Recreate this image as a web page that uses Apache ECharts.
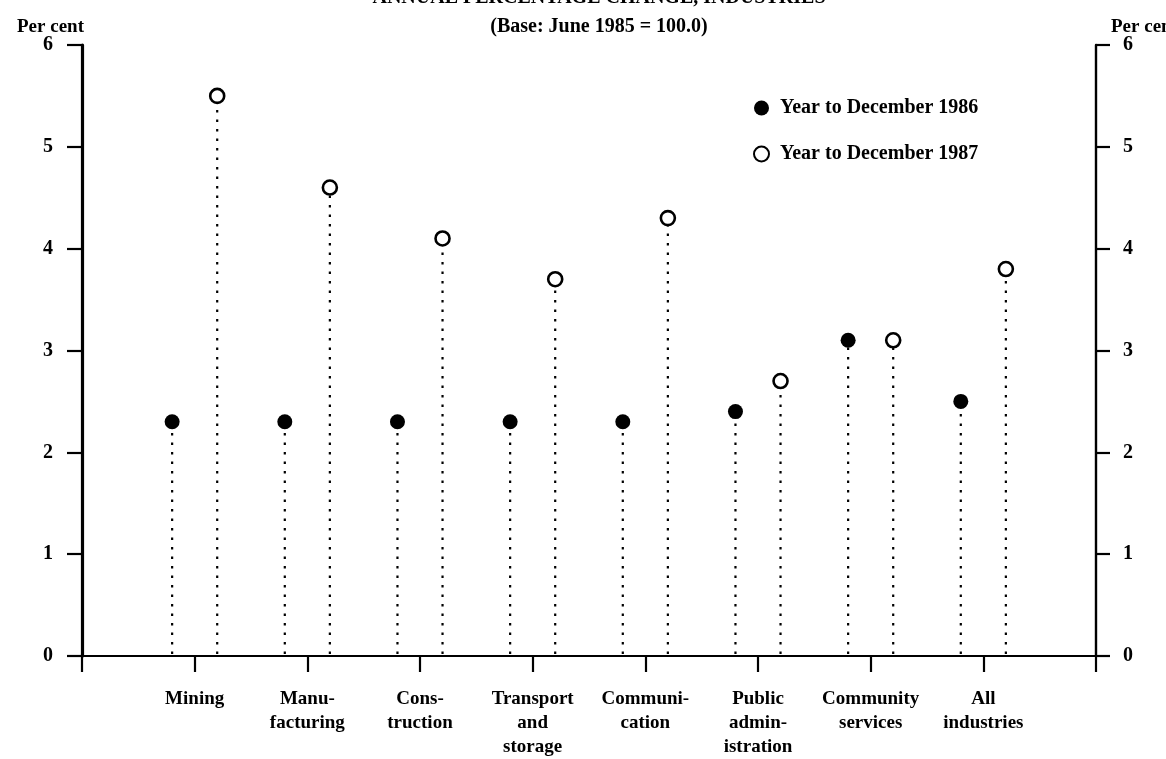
<!DOCTYPE html>
<html>
<head>
<meta charset="utf-8">
<script src="https://cdn.jsdelivr.net/npm/echarts@6/dist/echarts.min.js"></script>
<style>
html,body{margin:0;padding:0;background:#fff;}
#c{width:1166px;height:759px;}
</style>
</head>
<body>
<div id="c"></div>
<script>
var categories = ['Mining', 'Manu-\nfacturing', 'Cons-\ntruction', 'Transport\nand\nstorage', 'Communi-\ncation', 'Public\nadmin-\nistration', 'Community\nservices', 'All\nindustries'];
var year1986 = [2.3, 2.3, 2.3, 2.3, 2.3, 2.4, 3.1, 2.5];
var year1987 = [5.5, 4.6, 4.1, 3.7, 4.3, 2.7, 3.1, 3.8];
var yTicks = [0, 1, 2, 3, 4, 5, 6];
var seriesNames = ['Year to December 1986', 'Year to December 1987'];
var titleLines = ['ANNUAL PERCENTAGE CHANGE, INDUSTRIES', '(Base: June 1985 = 100.0)'];
var axisUnit = 'Per cent';

var FONT = "'Liberation Serif', 'DejaVu Serif', serif";
var OFF = 0.2;

var pts86 = year1986.map(function (v, i) { return [i + 1 - OFF, v]; });
var pts87 = year1987.map(function (v, i) { return [i + 1 + OFF, v]; });

function stem(params, api) {
  var x = api.value(0), y = api.value(1);
  var top = api.coord([x, y]);
  var bot = api.coord([x, 0]);
  return {
    type: 'line',
    shape: { x1: bot[0], y1: bot[1] - 2, x2: top[0], y2: top[1] + 6 },
    style: { stroke: '#000', lineWidth: 2.2, lineDash: [2.5, 7] }
  };
}

var chart = echarts.init(document.getElementById('c'), null, { renderer: 'canvas' });
var labelBase = { color: '#000', fontFamily: FONT, fontWeight: 'bold', fontSize: 20,
  formatter: function (v) { return yTicks.indexOf(v) >= 0 ? String(v) : ''; } };
chart.setOption({
  animation: false,
  backgroundColor: '#fff',
  grid: { left: 82, right: 70, top: 45, bottom: 96 },
  title: [
    { text: titleLines[0], left: 594, top: -17, textAlign: 'center',
      textStyle: { fontFamily: FONT, fontWeight: 'bold', fontSize: 20, color: '#000' } },
    { text: titleLines[1], left: 594, top: 12, textAlign: 'center',
      textStyle: { fontFamily: FONT, fontWeight: 'bold', fontSize: 20, color: '#000' } },
    { text: axisUnit, left: 12, top: 13,
      textStyle: { fontFamily: FONT, fontWeight: 'bold', fontSize: 19, color: '#000' } },
    { text: axisUnit, left: 1106, top: 13,
      textStyle: { fontFamily: FONT, fontWeight: 'bold', fontSize: 19, color: '#000' } }
  ],
  legend: {
    orient: 'vertical', left: 748, top: 93, itemGap: 26,
    itemWidth: 15, itemHeight: 15,
    data: seriesNames,
    textStyle: { fontFamily: FONT, fontWeight: 'bold', fontSize: 20, color: '#000', padding: [0, 0, 0, 6] }
  },
  xAxis: {
    type: 'value', min: 0, max: categories.length + 1, interval: 1,
    axisLine: { show: true, onZero: false, lineStyle: { color: '#000', width: 2.2 } },
    axisTick: { show: true, length: 16, lineStyle: { color: '#000', width: 2.2 } },
    splitLine: { show: false },
    axisLabel: {
      color: '#000', fontFamily: FONT, fontWeight: 'bold', fontSize: 19, lineHeight: 24, margin: 31,
      formatter: function (v) { return (v >= 1 && v <= categories.length) ? categories[v - 1] : ''; }
    }
  },
  yAxis: [
    { type: 'value', min: 0, max: 6, interval: 1, position: 'left',
      axisLine: { show: true, lineStyle: { color: '#000', width: 3.2 } },
      axisTick: { show: true, length: 15, lineStyle: { color: '#000', width: 2.2 } },
      splitLine: { show: false },
      axisLabel: Object.assign({ margin: 29 }, labelBase) },
    { type: 'value', min: 0, max: 6, interval: 1, position: 'right',
      axisLine: { show: true, lineStyle: { color: '#000', width: 2.4 } },
      axisTick: { show: true, length: 14, lineStyle: { color: '#000', width: 2.2 } },
      splitLine: { show: false },
      axisLabel: Object.assign({ margin: 27 }, labelBase) }
  ],
  series: [
    { type: 'custom', name: 'stem86', renderItem: stem, data: pts86, z: 1, silent: true },
    { type: 'custom', name: 'stem87', renderItem: stem, data: pts87, z: 1, silent: true },
    { type: 'scatter', name: seriesNames[0], data: pts86, symbol: 'circle', symbolSize: 15, z: 3,
      itemStyle: { color: '#000', opacity: 1 } },
    { type: 'scatter', name: seriesNames[1], data: pts87, symbol: 'circle', symbolSize: 14, z: 3,
      itemStyle: { color: '#fff', borderColor: '#000', borderWidth: 2.6, opacity: 1 } }
  ]
});
</script>
</body>
</html>
